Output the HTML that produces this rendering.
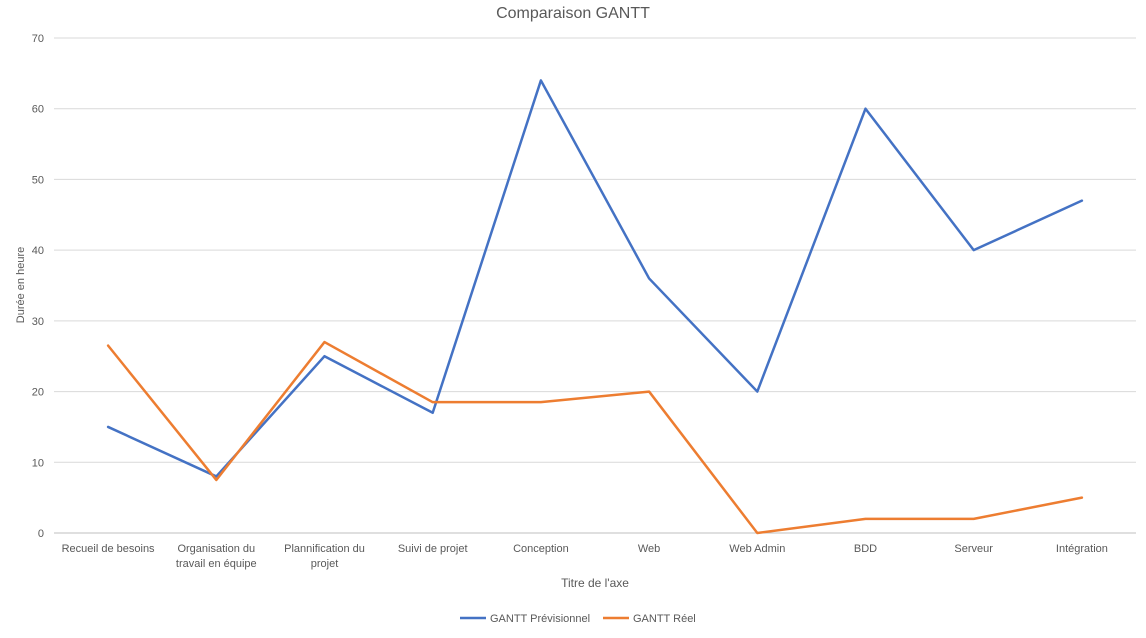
<!DOCTYPE html>
<html><head><meta charset="utf-8"><style>
body{margin:0;background:#fff;font-family:"Liberation Sans",sans-serif}
svg text{font-family:"Liberation Sans",sans-serif}
</style></head><body>
<svg id="chart" width="1146" height="633" xmlns="http://www.w3.org/2000/svg">
<text x="573" y="18" text-anchor="middle" font-size="16" fill="#595959">Comparaison GANTT</text>
<g id="grid"></g><g id="xl"></g><g id="lines"></g>
<text transform="translate(24,285) rotate(-90)" text-anchor="middle" font-size="11" fill="#595959">Durée en heure</text>
<text x="595" y="587" text-anchor="middle" font-size="12" fill="#595959">Titre de l'axe</text>
<g>
<line x1="460" y1="618" x2="486" y2="618" stroke="#4472C4" stroke-width="2.5"/>
<text x="490" y="622" font-size="11" fill="#595959">GANTT Prévisionnel</text>
<line x1="603" y1="618" x2="629" y2="618" stroke="#ED7D31" stroke-width="2.5"/>
<text x="633" y="622" font-size="11" fill="#595959">GANTT Réel</text>
</g>
</svg>
<script>
const categories=[["Recueil de besoins"],["Organisation du","travail en équipe"],["Plannification du","projet"],["Suivi de projet"],["Conception"],["Web"],["Web Admin"],["BDD"],["Serveur"],["Intégration"]];
const previsionnel=[15,8,25,17,64,36,20,60,40,47];
const reel=[26.5,7.5,27,18.5,18.5,20,0,2,2,5];
const yTicks=[0,10,20,30,40,50,60,70];
const NS="http://www.w3.org/2000/svg";
const L=54,R=1136,T=38,B=533;
const x=i=>L+(R-L)/categories.length*(i+0.5);
const y=v=>B-(B-T)*v/70;
const g=document.getElementById('grid');
yTicks.forEach(t=>{
const l=document.createElementNS(NS,'line');


l.setAttribute('x1',L);l.setAttribute('x2',R);l.setAttribute('y1',y(t));l.setAttribute('y2',y(t));
l.setAttribute('stroke',t==0?'#bfbfbf':'#d9d9d9');g.appendChild(l);
const tx=document.createElementNS(NS,'text');


tx.setAttribute('x',44);tx.setAttribute('y',y(t)+4);tx.setAttribute('text-anchor','end');
tx.setAttribute('font-size','11');tx.setAttribute('fill','#595959');tx.textContent=t;g.appendChild(tx);
});
const xl=document.getElementById('xl');
categories.forEach((c,i)=>{
c.forEach((s,j)=>{
const tx=document.createElementNS(NS,'text');


tx.setAttribute('x',x(i));tx.setAttribute('y',552+j*15);tx.setAttribute('text-anchor','middle');
tx.setAttribute('font-size','11');tx.setAttribute('fill','#595959');tx.textContent=s;xl.appendChild(tx);
});
});
const lg=document.getElementById('lines');
[[previsionnel,'#4472C4','series-previsionnel'],[reel,'#ED7D31','series-reel']].forEach(([d,c,n])=>{
const p=document.createElementNS(NS,'polyline');


p.setAttribute('points',d.map((v,i)=>x(i)+','+y(v)).join(' '));
p.setAttribute('fill','none');p.setAttribute('stroke',c);p.setAttribute('stroke-width','2.5');
p.setAttribute('stroke-linejoin','round');p.setAttribute('stroke-linecap','round');
lg.appendChild(p);
});
</script>
</body></html>
